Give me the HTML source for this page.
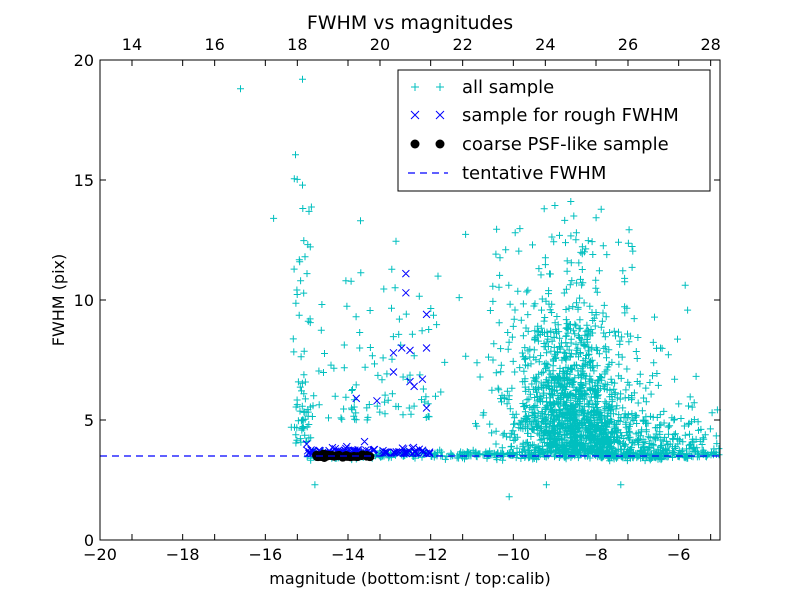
<!DOCTYPE html>
<html><head><meta charset="utf-8"><style>
html,body{margin:0;padding:0;background:#fff;}
svg text{font-family:"DejaVu Sans","Liberation Sans",sans-serif;}
</style></head><body>
<svg id="s" width="800" height="600" xmlns="http://www.w3.org/2000/svg">
<rect width="800" height="600" fill="#fff"/>
<g id="data"></g>
<line x1="100" y1="456" x2="720" y2="456" stroke="#0000ff" stroke-width="1.2" stroke-dasharray="7,5"/>
<rect x="100" y="60" width="620" height="480" fill="none" stroke="#000" stroke-width="1"/>
<g id="ticks" stroke="#000" stroke-width="1"></g>
<g id="labels" font-size="16" fill="#000"></g>
<text x="410" y="29" font-size="19" text-anchor="middle">FWHM vs magnitudes</text>
<text x="410" y="584" font-size="16" text-anchor="middle">magnitude (bottom:isnt / top:calib)</text>
<text x="64" y="300" font-size="16" text-anchor="middle" transform="rotate(-90 64 300)">FWHM (pix)</text>
<rect x="398" y="70" width="312" height="121" fill="#fff" stroke="#000" stroke-width="1"/>
<g stroke="#00bfbf" stroke-width="1"><path d="M411 87h8M415 83v8M436 87h8M440 83v8"/></g>
<g stroke="#0000ff" stroke-width="1"><path d="M411 111l8 8M419 111l-8 8M436 111l8 8M444 111l-8 8"/></g>
<circle cx="415" cy="144" r="4.5" fill="#000"/><circle cx="440" cy="144" r="4.5" fill="#000"/>
<line x1="408" y1="173" x2="448" y2="173" stroke="#0000ff" stroke-width="1.2" stroke-dasharray="7,5"/>
<g font-size="18"><text x="462" y="93">all sample</text><text x="462" y="121">sample for rough FWHM</text><text x="462" y="150">coarse PSF-like sample</text><text x="462" y="179">tentative FWHM</text></g>
</svg>
<script>
var NS="http://www.w3.org/2000/svg";
var seed=12345;function r(){seed=(seed*16807)%2147483647;return (seed-1)/2147483646;}
function g(){var u=0;for(var i=0;i<6;i++)u+=r();return (u-3)/Math.sqrt(0.5);}
function X(v){return 100+(v+20)*620/15;}function Y(v){return 540-v*24;}
var d="",b="",k="";
function plus(x,y){var px=X(x),py=Y(y);if(px<100||px>720||py<60||py>540)return;d+="M"+(px-3.5).toFixed(1)+" "+py.toFixed(1)+"h7M"+px.toFixed(1)+" "+(py-3.5).toFixed(1)+"v7";}
function cross(x,y){var px=X(x),py=Y(y);b+="M"+(px-3.5)+" "+(py-3.5)+"l7 7M"+(px+3.5)+" "+(py-3.5)+"l-7 7";}
var i,x,y;
for(i=0;i<1200;i++){x=-8.6+g()*0.65;y=3.6+Math.abs(g())*2.4*(1+0.2*g());if(x>-8)y=3.5+(y-3.5)*(1-(x+8)*0.3);plus(x,y);}
for(i=0;i<250;i++){x=-8+Math.abs(g())*1.6;y=3.4+Math.abs(g())*0.9;plus(x,y);}
for(i=0;i<180;i++){x=-11+r()*5.5;y=3.3+r()*r()*8;plus(x,y);}
for(i=0;i<90;i++){x=-10.5+r()*3.5;y=5+r()*8;plus(x,y);}
for(i=0;i<50;i++){x=-9.5+r()*2.5;y=8+r()*7;plus(x,y);}
for(i=0;i<400;i++){x=-15+r()*10;y=3.55+g()*0.08;plus(x,y);}
for(i=0;i<70;i++){x=-15.1+g()*0.13;y=4+r()*r()*15;plus(x,y);}
for(i=0;i<90;i++){x=-15+r()*3;y=5+r()*r()*10;plus(x,y);}
for(i=0;i<15;i++){x=-12.5+r()*1.5;y=5+r()*8;plus(x,y);}
plus(-16.6,18.8);plus(-15.1,19.2);plus(-15.8,13.4);plus(-10.3,19);plus(-14.8,2.3);plus(-10.1,1.8);plus(-9.2,2.3);plus(-7.4,2.3);
for(i=0;i<90;i++){x=-15+r()*3;y=3.6+Math.abs(g())*0.12;cross(x,y);}
[[-12.6,11.1],[-12.6,10.3],[-12.1,9.4],[-12.7,8],[-12.5,7.9],[-12.1,8],[-12.9,7.8],[-12.5,6.6],[-12.4,6.4],[-12.2,6.7],[-12.9,7],[-12.1,5.5],[-13.3,5.8],[-13.8,5.9],[-15,4],[-13.6,4.1]].forEach(function(p){cross(p[0],p[1]);});
function add(path,col){var e=document.createElementNS(NS,"path");e.setAttribute("d",path);e.setAttribute("stroke",col);e.setAttribute("fill","none");e.setAttribute("stroke-width","1");document.getElementById("data").appendChild(e);}
add(d,"#00bfbf");add(b,"#0000ff");
for(i=0;i<28;i++){var c=document.createElementNS(NS,"circle");x=-14.85+r()*1.4;c.setAttribute("cx",X(x));c.setAttribute("cy",Y(3.5+g()*0.03));c.setAttribute("r",4.5);c.setAttribute("fill","#000");document.getElementById("data").appendChild(c);}
var t="",L=document.getElementById("labels"),lab="";
for(var v=-20;v<=-6;v+=2){var px=X(v);t+="M"+px+" 540v-6M"+px+" 60v6";lab+='<text x="'+px+'" y="560" text-anchor="middle">'+(v<0?"\u2212"+(-v):v)+'</text>';}
for(v=14;v<=28;v+=2){px=X(v-33.226);t+="M"+px+" 60v6M"+px+" 540v-6";lab+='<text x="'+px+'" y="50" text-anchor="middle">'+v+'</text>';}
for(v=0;v<=20;v+=5){var py=Y(v);t+="M100 "+py+"h6M720 "+py+"h-6";lab+='<text x="94" y="'+(py+6)+'" text-anchor="end">'+v+'</text>';}
var tp=document.createElementNS(NS,"path");tp.setAttribute("d",t);document.getElementById("ticks").appendChild(tp);
L.innerHTML=lab;
</script>
</body></html>
